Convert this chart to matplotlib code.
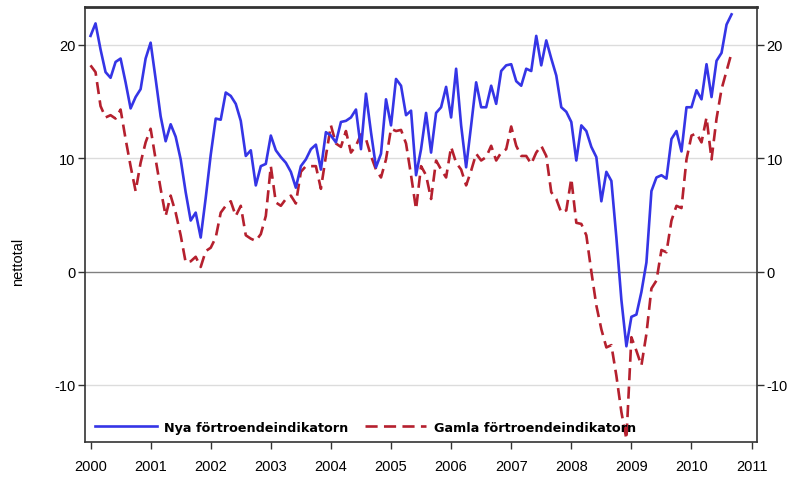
import matplotlib
matplotlib.use("Agg")
import matplotlib.pyplot as plt
import numpy as np

start_year = 2000
nya = [20.8, 21.9, 19.6, 17.6, 17.1, 18.5, 18.8, 16.7, 14.4, 15.4, 16.1, 18.8,
       20.2, 17.0, 13.7, 11.5, 13.0, 11.9, 9.9, 7.0, 4.5, 5.2, 3.0, 6.5,
       10.3, 13.5, 13.4, 15.8, 15.5, 14.8, 13.3, 10.2, 10.7, 7.6, 9.3, 9.5,
       12.0, 10.7, 10.1, 9.6, 8.8, 7.4, 9.3, 9.9, 10.8, 11.2, 9.0, 12.3,
       12.0, 11.4, 13.2, 13.3, 13.6, 14.3, 10.8, 15.7, 12.3, 9.2, 10.4, 15.2,
       12.9, 17.0, 16.4, 13.8, 14.2, 8.5, 10.8, 14.0, 10.5, 14.0, 14.5, 16.3,
       13.6, 17.9, 12.9, 9.2, 12.9, 16.7, 14.5, 14.5, 16.4, 14.8, 17.7, 18.2,
       18.3, 16.8, 16.4, 17.9, 17.7, 20.8, 18.2, 20.4, 18.8, 17.3, 14.5, 14.1,
       13.2, 9.8, 12.9, 12.4, 11.0, 10.1, 6.2, 8.8, 8.0, 3.0, -2.5, -6.6,
       -4.0, -3.8, -1.8, 0.8, 7.1, 8.3, 8.5, 8.2, 11.7, 12.4, 10.6, 14.5,
       14.5, 16.0, 15.2, 18.3, 15.4, 18.6, 19.3, 21.8, 22.7]
gamla = [18.2, 17.6, 14.6, 13.6, 13.8, 13.5, 14.3, 11.7, 9.3, 7.1, 9.6, 11.4,
         12.6, 9.9, 7.3, 4.9, 6.7, 5.2, 3.2, 0.8, 0.9, 1.3, 0.4, 1.8,
         2.1, 3.0, 5.2, 5.8, 6.2, 4.9, 5.8, 3.2, 2.9, 2.7, 3.3, 4.9,
         9.3, 6.1, 5.8, 6.4, 6.7, 6.0, 8.8, 9.3, 9.3, 9.3, 7.3, 10.2,
         12.9, 11.3, 11.0, 12.4, 10.5, 11.1, 12.1, 11.7, 10.2, 9.0, 8.3, 9.9,
         12.6, 12.4, 12.5, 11.3, 8.5, 5.5, 9.3, 8.5, 6.4, 9.8, 9.0, 8.3,
         11.0, 9.6, 9.0, 7.6, 8.9, 10.4, 9.8, 10.1, 11.1, 9.8, 10.5, 10.8,
         12.8, 11.1, 10.2, 10.2, 9.5, 10.5, 11.1, 10.2, 7.0, 6.4, 5.2, 5.4,
         8.2, 4.3, 4.2, 3.2, 0.0, -3.0, -5.1, -6.7, -6.5, -9.2, -12.4, -14.8,
         -5.8, -7.0, -8.3, -5.5, -1.5, -0.8, 1.9, 1.7, 4.5, 5.8, 5.6, 9.9,
         12.0, 12.2, 11.4, 13.6, 9.9, 13.5, 16.1, 17.7, 19.3]
label_nya = "Nya förtroendeindikatorn"
label_gamla = "Gamla förtroendeindikatorn"
year_ticks = list(range(2000, 2012))
y_ticks = [-10, 0, 10, 20]
y_label = "nettotal"

x_nya = start_year + np.arange(len(nya)) / 12.0
x_gamla = start_year + np.arange(len(gamla)) / 12.0

plt.rcParams['font.family'] = ['Liberation Sans', 'DejaVu Sans']
plt.rcParams['axes.unicode_minus'] = False
fig = plt.figure(figsize=(7.95, 4.85), dpi=100)
ax = fig.add_axes([85/795, 1-443/485, (757-85)/795, (443-8)/485])

for v in y_ticks:
    if v == 0:
        ax.axhline(v, color='#808080', lw=1.0, zorder=1)
    else:
        ax.axhline(v, color='#dcdcdc', lw=1.0, zorder=1)

ax.plot(x_nya, nya, color='#3535e6', lw=1.9, label=label_nya, zorder=3,
        solid_joinstyle='round')
ax.plot(x_gamla, gamla, color='#b5202e', lw=1.9, dashes=(4.6, 2.4),
        label=label_gamla, zorder=2)

ax.set_xlim(1999.908, 2011.09)
ax.set_ylim(-15.05, 23.35)
ax.set_xticks(year_ticks)
ax.set_xticklabels([str(y) for y in year_ticks])
ax.set_yticks(y_ticks)
ax.set_ylabel(y_label, fontsize=10.5)
ax.yaxis.set_label_coords(-0.089, 0.416)
ax.tick_params(axis='both', direction='out', length=5, width=1.0,
               labelsize=10.5, color='#333333')
ax.tick_params(axis='x', pad=7)
ax.tick_params(axis='y', right=True, labelright=True, pad=2)
for s in ax.spines.values():
    s.set_color('#333333')
    s.set_linewidth(1.2)
ax.spines['top'].set_linewidth(2.0)

leg = ax.legend(loc='lower left', ncol=2, frameon=False, fontsize=9.2,
                handlelength=4.8, columnspacing=1.3, handletextpad=0.6,
                bbox_to_anchor=(0.0, -0.005), borderaxespad=0.4)
for t in leg.get_texts():
    t.set_family('DejaVu Sans')
    t.set_fontweight('semibold')

fig.savefig("out.png", dpi=100)
